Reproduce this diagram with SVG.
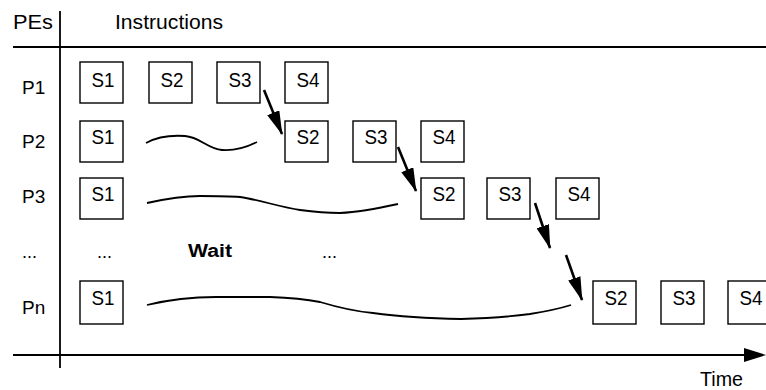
<svg xmlns="http://www.w3.org/2000/svg" width="766" height="390" viewBox="0 0 766 390">
  <style>
    text { font-family: "Liberation Sans", Arial, sans-serif; fill: #000; }
    .hdr { font-size: 20px; }
    .pe { font-size: 19px; }
    .dots { font-size: 18px; }
    .st { font-size: 21px; text-anchor: middle; }
    .box { fill: #fff; stroke: #000; stroke-width: 1.4; }
    .axis { stroke: #000; stroke-width: 1.8; fill: none; }
    .wave { stroke: #000; stroke-width: 1.8; fill: none; }
    .dep { stroke: #000; stroke-width: 2.6; fill: none; marker-end: url(#head); }
  </style>
  <defs>
    <marker id="head" markerUnits="userSpaceOnUse" markerWidth="24" markerHeight="13" refX="23" refY="6.5" orient="auto">
      <path d="M0,0 L24,6.5 L0,13 z" fill="#000"/>
    </marker>
  </defs>

  <!-- axes and header rule -->
  <g id="axes">
    <line class="axis" x1="60" y1="11" x2="60" y2="368"/>
    <line class="axis" x1="13" y1="47" x2="766" y2="47"/>
    <line class="axis" x1="13" y1="355" x2="748" y2="355"/>
    <polygon points="744,348 766,355 744,362" fill="#000"/>
    <text class="hdr" x="13" y="29" textLength="40" lengthAdjust="spacingAndGlyphs">PEs</text>
    <text class="hdr" x="115" y="29" textLength="108" lengthAdjust="spacingAndGlyphs">Instructions</text>
    <text class="hdr" x="700" y="386" textLength="43" lengthAdjust="spacingAndGlyphs">Time</text>
  </g>

  <!-- processing element labels -->
  <g id="pe-labels">
    <text class="pe" x="22" y="94">P1</text>
    <text class="pe" x="22" y="148">P2</text>
    <text class="pe" x="22" y="203">P3</text>
    <text class="dots" x="22" y="258">...</text>
    <text class="pe" x="22" y="314">Pn</text>
  </g>

  <!-- row P1 -->
  <g id="p1-s1"><rect class="box" x="80" y="62" width="43" height="41"/><text class="st" x="103" y="87" textLength="23" lengthAdjust="spacingAndGlyphs">S1</text></g>
  <g id="p1-s2"><rect class="box" x="149" y="62" width="43" height="41"/><text class="st" x="172" y="87" textLength="23" lengthAdjust="spacingAndGlyphs">S2</text></g>
  <g id="p1-s3"><rect class="box" x="217" y="62" width="43" height="41"/><text class="st" x="240" y="87" textLength="23" lengthAdjust="spacingAndGlyphs">S3</text></g>
  <g id="p1-s4"><rect class="box" x="285" y="62" width="43" height="41"/><text class="st" x="308" y="87" textLength="23" lengthAdjust="spacingAndGlyphs">S4</text></g>

  <!-- row P2 -->
  <g id="p2-s1"><rect class="box" x="80" y="121" width="43" height="41"/><text class="st" x="103" y="144" textLength="23" lengthAdjust="spacingAndGlyphs">S1</text></g>
  <g id="p2-s2"><rect class="box" x="285" y="121" width="43" height="41"/><text class="st" x="308" y="144" textLength="23" lengthAdjust="spacingAndGlyphs">S2</text></g>
  <g id="p2-s3"><rect class="box" x="353" y="121" width="43" height="41"/><text class="st" x="376" y="144" textLength="23" lengthAdjust="spacingAndGlyphs">S3</text></g>
  <g id="p2-s4"><rect class="box" x="421" y="121" width="43" height="41"/><text class="st" x="444" y="144" textLength="23" lengthAdjust="spacingAndGlyphs">S4</text></g>

  <!-- row P3 -->
  <g id="p3-s1"><rect class="box" x="80" y="178" width="43" height="41"/><text class="st" x="103" y="201" textLength="23" lengthAdjust="spacingAndGlyphs">S1</text></g>
  <g id="p3-s2"><rect class="box" x="421" y="178" width="43" height="41"/><text class="st" x="444" y="201" textLength="23" lengthAdjust="spacingAndGlyphs">S2</text></g>
  <g id="p3-s3"><rect class="box" x="487" y="178" width="43" height="41"/><text class="st" x="510" y="201" textLength="23" lengthAdjust="spacingAndGlyphs">S3</text></g>
  <g id="p3-s4"><rect class="box" x="556" y="178" width="43" height="41"/><text class="st" x="579" y="201" textLength="23" lengthAdjust="spacingAndGlyphs">S4</text></g>

  <!-- elided rows -->
  <g id="ellipsis">
    <text class="dots" x="97" y="258">...</text>
    <text class="dots" x="188" y="257" font-weight="bold" textLength="44" lengthAdjust="spacingAndGlyphs">Wait</text>
    <text class="dots" x="322" y="258">...</text>
  </g>

  <!-- row Pn -->
  <g id="pn-s1"><rect class="box" x="80" y="281" width="43" height="43"/><text class="st" x="103" y="305" textLength="23" lengthAdjust="spacingAndGlyphs">S1</text></g>
  <g id="pn-s2"><rect class="box" x="593" y="281" width="43" height="43"/><text class="st" x="616" y="305" textLength="23" lengthAdjust="spacingAndGlyphs">S2</text></g>
  <g id="pn-s3"><rect class="box" x="661" y="281" width="43" height="43"/><text class="st" x="684" y="305" textLength="23" lengthAdjust="spacingAndGlyphs">S3</text></g>
  <g id="pn-s4"><rect class="box" x="728" y="281" width="43" height="43"/><text class="st" x="751" y="305" textLength="23" lengthAdjust="spacingAndGlyphs">S4</text></g>

  <!-- waiting periods and stage dependencies -->
  <g id="connectors">
    <path class="wave" d="M146,143 C155,138 170,135 185,136 C200,137 208,149 222,150 C235,151 245,148 257,142"/>
    <path class="wave" d="M147,203 C165,199 180,196 200,196 C215,196 228,196 240,197 C260,200 280,207 300,210 C315,212 325,213 340,213 C360,212 380,208 398,204"/>
    <path class="wave" d="M147,305 Q180,297 216,297 L270,297 Q300,298 320,302 Q350,311 373,313 Q410,318 461,319 Q500,318 530,314 Q555,310 571,305"/>
    <line class="dep" x1="264" y1="90" x2="282" y2="134"/>
    <line class="dep" x1="398" y1="147" x2="416" y2="191"/>
    <line class="dep" x1="535" y1="203" x2="550" y2="248"/>
    <line class="dep" x1="566" y1="255" x2="582" y2="300"/>
  </g>
</svg>
